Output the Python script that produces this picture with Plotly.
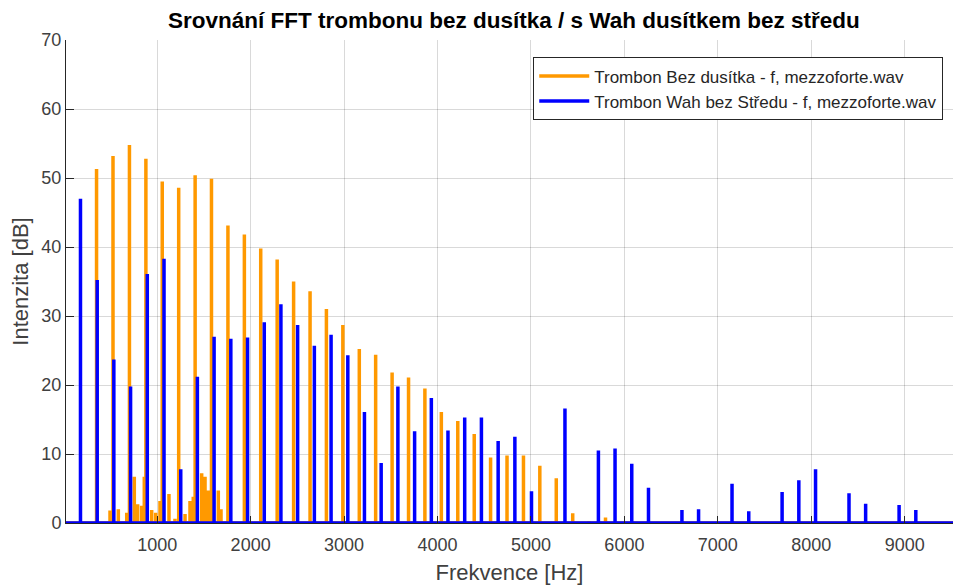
import plotly.graph_objects as go

# ---- data ----
# Orange: Trombon Bez dusítka (harmonic peaks)
orange_freq = [351, 527, 703, 879, 1054, 1230, 1406, 1581, 1757, 1933, 2108, 2284,
               2460, 2636, 2811, 2987, 3163, 3338, 3514, 3690, 3865, 4041, 4217,
               4393, 4568, 4744, 4920, 5095, 5271, 5447, 5622, 5798]
orange_db = [51.3, 53.2, 54.8, 52.8, 49.5, 48.6, 50.4, 49.9, 43.1, 41.8, 39.8, 38.2,
             35.0, 33.6, 31.0, 28.7, 25.2, 24.4, 21.8, 21.1, 19.5, 16.1, 14.8,
             12.9, 9.5, 9.8, 9.8, 8.3, 6.5, 1.4, 0.3, 0.8]
# Orange: smaller components between the low harmonics
orange_noise_freq = [495, 584, 674, 755, 791, 834, 862, 941, 984, 1030, 1126, 1190,
                     1298, 1351, 1386, 1476, 1512, 1547, 1654, 1683]
orange_noise_db = [1.8, 2.0, 1.5, 6.7, 2.7, 2.5, 6.7, 1.9, 1.5, 3.2, 4.2, 0.6,
                   1.3, 3.2, 3.8, 7.2, 6.7, 4.7, 4.7, 2.0]

# Blue: Trombon Wah bez Středu (harmonic peaks)
blue_freq = [179, 358, 536, 715, 894, 1073, 1252, 1430, 1609, 1788, 1967, 2146,
             2324, 2503, 2682, 2861, 3040, 3218, 3397, 3576, 3755, 3934, 4112,
             4291, 4470, 4649, 4828, 5006, 5364, 5722, 5900, 6079, 6258, 6437,
             6616, 6794, 7152, 7331, 7688, 7867, 8046, 8404, 8582, 8940, 9119]
blue_db = [47.0, 35.2, 23.7, 19.8, 36.1, 38.3, 7.8, 21.2, 27.0, 26.7, 26.9, 29.1,
           31.7, 28.7, 25.7, 27.3, 24.3, 16.1, 8.7, 19.8, 13.3, 18.1, 13.4,
           15.3, 15.3, 11.9, 12.5, 4.6, 16.6, 10.5, 10.8, 8.6, 5.1, 0.2,
           1.9, 2.0, 5.7, 1.7, 4.5, 6.2, 7.8, 4.3, 2.8, 2.6, 1.9]

x_ticks = [1000, 2000, 3000, 4000, 5000, 6000, 7000, 8000, 9000]
y_ticks = [0, 10, 20, 30, 40, 50, 60, 70]
x_range = [24, 9517]
y_range = [0, 70]

series_names = ["Trombon Bez dusítka - f, mezzoforte.wav",
                "Trombon Wah bez Středu - f, mezzoforte.wav"]
series_colors = ["#FF9900", "#0000FF"]


def spectrum(freqs, vals, lo, hi):
    pts = sorted(zip(freqs, vals))
    xs, ys = [lo], [0]
    for f, v in pts:
        xs += [f, f, f]
        ys += [0, v, 0]
    xs.append(hi)
    ys.append(0)
    return xs, ys


ox, oy = spectrum(orange_freq + orange_noise_freq, orange_db + orange_noise_db,
                  x_range[0] - 100, x_range[1] + 100)
bx, by = spectrum(blue_freq, blue_db, x_range[0] - 100, x_range[1] + 100)

fig = go.Figure()
fig.add_trace(go.Scatter(x=ox, y=oy, mode="lines", name=series_names[0],
                         line=dict(color=series_colors[0], width=3.5)))
fig.add_trace(go.Scatter(x=bx, y=by, mode="lines", name=series_names[1],
                         line=dict(color=series_colors[1], width=3.5)))

font_family = "Liberation Sans, Arial, sans-serif"
fig.update_layout(
    width=953, height=585,
    margin=dict(l=66, r=0, t=40, b=62, autoexpand=False),
    paper_bgcolor="white", plot_bgcolor="white",
    font=dict(family=font_family, color="#262626"),
    title=dict(text="<b>Srovnání FFT trombonu bez dusítka / s Wah dusítkem bez středu</b>",
               x=0.505, xref="paper", xanchor="center",
               y=1 - 20 / 585, yref="container", yanchor="middle",
               font=dict(size=22.5, color="#000000")),
    showlegend=True,
    legend=dict(x=0.989, xanchor="right", y=0.964, yanchor="top",
                bgcolor="white", bordercolor="#262626", borderwidth=1,
                itemwidth=50, tracegroupgap=0,
                font=dict(size=17, color="#262626")),
    xaxis=dict(range=x_range, tickvals=x_ticks, ticktext=[str(t) for t in x_ticks],
               automargin=False,
               showgrid=True, gridcolor="rgba(0,0,0,0.15)", gridwidth=1,
               zeroline=False, showline=True, linecolor="#262626", linewidth=1,
               ticks="inside", ticklen=7, tickcolor="#262626",
               ticklabelstandoff=5,
               tickfont=dict(size=18, color="#404040"),
               title=dict(text="Frekvence [Hz]", font=dict(size=22, color="#404040"),
                          standoff=12)),
    yaxis=dict(range=y_range, tickvals=y_ticks,
               automargin=False,
               showgrid=True, gridcolor="rgba(0,0,0,0.15)", gridwidth=1,
               zeroline=False, showline=True, linecolor="#262626", linewidth=1,
               ticks="inside", ticklen=8, tickcolor="#262626",
               tickfont=dict(size=18, color="#404040"),
               title=dict(text="Intenzita [dB]", font=dict(size=22, color="#404040"),
                          standoff=6)),
)

fig.write_html("out.html", config={"displayModeBar": False},
               post_script="document.body.style.margin='0';")
